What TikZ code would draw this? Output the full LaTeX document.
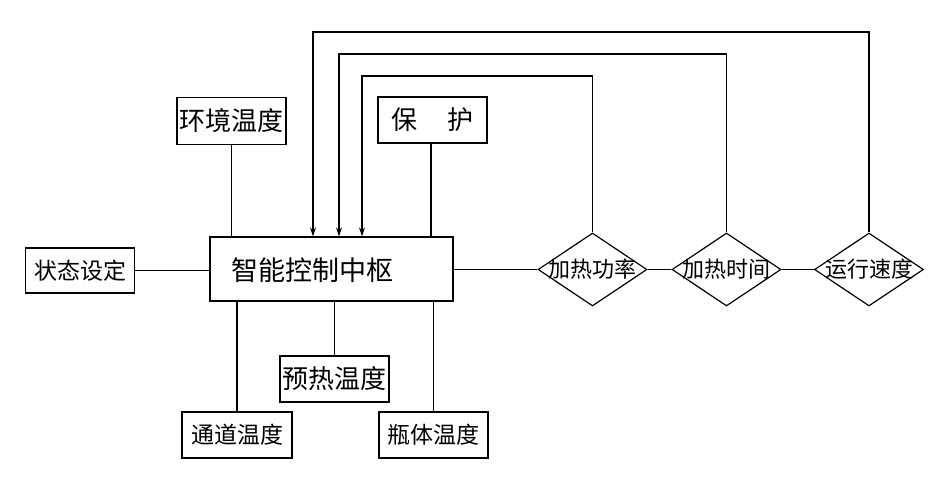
\documentclass[tikz,border=0pt]{standalone}
\usepackage{fontspec}
\newfontfamily\cjk{Noto Sans CJK SC}
\usetikzlibrary{shapes.geometric,arrows.meta,calc}
\tikzset{
  box/.style={draw,line width=1.2pt,rectangle,inner sep=0pt,font=\cjk\fontsize{26}{28}\selectfont},
  sbox/.style={box,font=\cjk\fontsize{23}{25}\selectfont},
  dia/.style={draw,line width=1.2pt,diamond,inner sep=0pt,minimum width=109pt,minimum height=73pt},
  dtext/.style={font=\cjk\fontsize{22}{24}\selectfont},
  ln/.style={line width=1.2pt},
  arr/.style={line width=1.2pt,-{Stealth[length=9pt,width=6pt]}}
}
\begin{document}
\begin{tikzpicture}[x=1pt,y=-1pt]
\useasboundingbox (0,0) rectangle (942,483);
% boxes
\node[box,minimum width=109pt,minimum height=47pt] (env) at (231.5,121) {环境温度};
\node[box,minimum width=109pt,minimum height=46pt] (prot) at (432.5,120) {保\hspace{30pt}护};
\node[sbox,minimum width=109pt,minimum height=45pt] (state) at (80,270.5) {状态设定};
\node[box,minimum width=243pt,minimum height=64pt] (ctrl) at (331.5,269) {};
\node[font=\cjk\fontsize{27}{29}\selectfont,anchor=west,inner sep=0pt] (ctrlt) at (231,270) {智能控制中枢};
\node[box,minimum width=109pt,minimum height=46pt] (pre) at (334.5,379) {预热温度};
\node[sbox,minimum width=110pt,minimum height=46pt] (chan) at (237,435) {通道温度};
\node[sbox,minimum width=109pt,minimum height=46pt] (bot) at (433.5,435) {瓶体温度};
% diamonds
\node[dia,label={[dtext]center:加热功率}] (d1) at (592.5,269.5) {};
\node[dia,label={[dtext]center:加热时间}] (d2) at (726.5,269.5) {};
\node[dia,label={[dtext]center:运行速度}] (d3) at (869,269.5) {};
% connectors
\draw[ln] (env.south) -- (env.south |- ctrl.north);
\draw[ln] ([xshift=-1.5pt]prot.south) -- ([xshift=-1.5pt]prot.south |- ctrl.north);
\draw[ln] (state.east) -- (state.east -| ctrl.west);
\draw[ln] (ctrl.east |- d1.west) -- (d1.west);
\draw[ln] (d1.east) -- (d2.west);
\draw[ln] (d2.east) -- (d3.west);
\draw[ln] (chan.north) -- (chan.north |- ctrl.south);
\draw[ln] (pre.north) -- (pre.north |- ctrl.south);
\draw[ln] (bot.north) -- (bot.north |- ctrl.south);
% feedback
\coordinate (t1) at (362,76);
\coordinate (t2) at (339,54);
\coordinate (t3) at (313,32);
\draw[arr] (d1.north) |- (t1) -- (t1 |- ctrl.north);
\draw[arr] (d2.north) |- (t2) -- (t2 |- ctrl.north);
\draw[arr] (d3.north) |- (t3) -- (t3 |- ctrl.north);
\end{tikzpicture}
\end{document}
